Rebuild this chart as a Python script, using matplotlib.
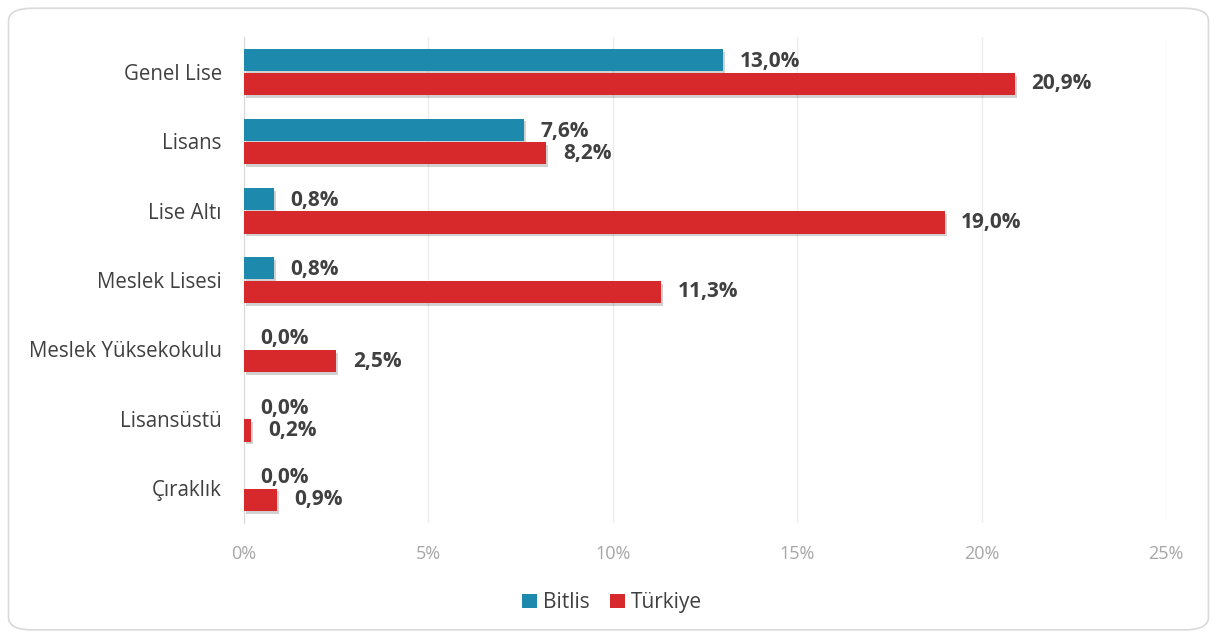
import numpy as np
import matplotlib
matplotlib.use('Agg')
import matplotlib.pyplot as plt
import matplotlib.patheffects as pe
from matplotlib.patches import FancyBboxPatch, Patch

categories = ['Genel Lise', 'Lisans', 'Lise Altı', 'Meslek Lisesi',
              'Meslek Yüksekokulu', 'Lisansüstü', 'Çıraklık']
bitlis = [13.0, 7.6, 0.8, 0.8, 0.0, 0.0, 0.0]
turkiye = [20.9, 8.2, 19.0, 11.3, 2.5, 0.2, 0.9]
xticks = [0, 5, 10, 15, 20, 25]

plt.rcParams['font.family'] = ['Open Sans', 'DejaVu Sans']

c_bit = '#1d89ad'
c_tur = '#d7282b'

fig = plt.figure(figsize=(12.17, 6.35), dpi=100)
ax = fig.add_axes([0.2005, 0.177, 0.7575, 0.764])

# rounded frame around the whole figure
frame = FancyBboxPatch((0.007, 0.008), 0.986, 0.979, transform=fig.transFigure,
                       boxstyle='round,pad=0,rounding_size=0.02',
                       facecolor='none', edgecolor='#d9d9d9', linewidth=1.2)
fig.patches.append(frame)

y = np.arange(len(categories))
h = 0.32
shadow = [pe.SimplePatchShadow(offset=(1.5, -2), shadow_rgbFace='#000000', alpha=0.18),
          pe.Normal()]

b1 = ax.barh(y - h/2 - 0.01, bitlis, height=h, color=c_bit, zorder=3)
b2 = ax.barh(y + h/2 + 0.01, turkiye, height=h, color=c_tur, zorder=3)
for b in list(b1) + list(b2):
    b.set_path_effects(shadow)

for yi, v in zip(y, bitlis):
    ax.text(v + 0.45, yi - h/2 + 0.01, f'{v:.1f}%'.replace('.', ','), va='center', ha='left',
            fontsize=15, fontweight='bold', color='#404040')
for yi, v in zip(y, turkiye):
    ax.text(v + 0.45, yi + h/2 + 0.01, f'{v:.1f}%'.replace('.', ','), va='center', ha='left',
            fontsize=15, fontweight='bold', color='#404040')

ax.set_ylim(len(categories) - 0.5, -0.5)
ax.set_xlim(0, 25)
ax.set_yticks(y)
ax.set_yticklabels(categories, fontsize=14.8, color='#404040')
ax.set_xticks(xticks)
ax.set_xticklabels([f'{t}%' for t in xticks], fontsize=13, color='#a6a6a6')
ax.tick_params(axis='y', length=0, pad=16)
ax.tick_params(axis='x', length=0, pad=16)
ax.grid(axis='x', color='#ececec', linewidth=1, zorder=0)
for s in ['top', 'right', 'bottom']:
    ax.spines[s].set_visible(False)
ax.spines['left'].set_color('#d9d9d9')

handles = [Patch(facecolor=c_bit), Patch(facecolor=c_tur)]
fig.legend(handles=handles, labels=['Bitlis', 'Türkiye'], loc='center',
           bbox_to_anchor=(0.503, 0.051), ncol=2, frameon=False, fontsize=15,
           handlelength=0.7, handleheight=0.7, handletextpad=0.3, columnspacing=1.0,
           labelcolor='#404040')

fig.savefig('out.png', dpi=100)
